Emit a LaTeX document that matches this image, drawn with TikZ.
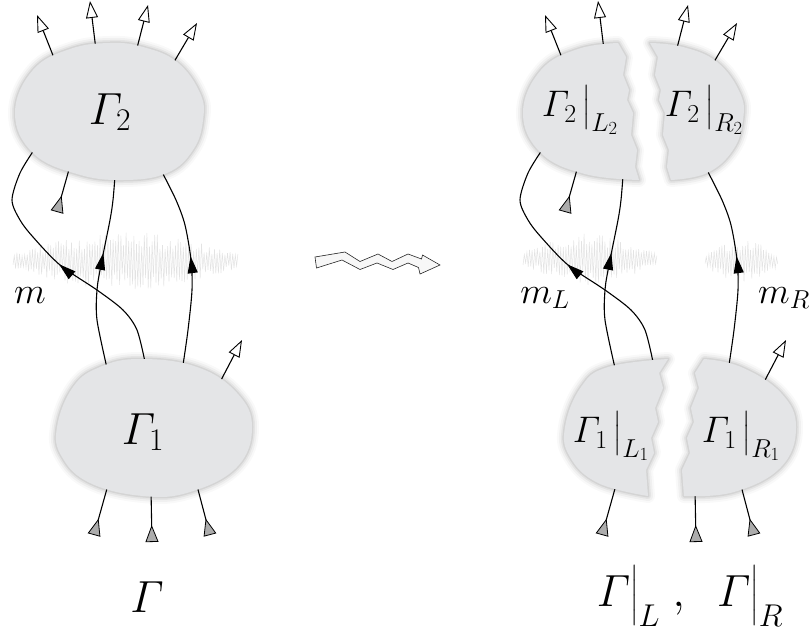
\documentclass[tikz,border=0pt]{standalone}
\usepackage{fix-cm}
\usepackage{amsmath}
\usetikzlibrary{arrows.meta, decorations.markings}

% outlines of the two vertices (and of their halves)
\newcommand{\blobtwo}{plot[smooth cycle, tension=0.7] coordinates {(15,113) (33,70) (70,49) (110,43) (143,47) (177,62) (200,93) (203,120) (193,150) (167,173) (123,180) (77,174) (33,153)}}
\newcommand{\blobtwoL}{plot[smooth, tension=0.7] coordinates {(131,180) (77,174) (33,153) (15,113) (33,70) (70,49) (110,43)} -- (118,57) -- (115,75) -- (121,90) -- (119,100) -- (125,113) -- (123,135) -- (129,150) -- (127,167) -- cycle}
\newcommand{\blobtwoR}{plot[smooth, tension=0.7] coordinates {(110,43) (143,47) (177,62) (200,93) (203,120) (193,150) (167,173) (131,180)} -- (127,167) -- (129,150) -- (123,135) -- (125,113) -- (119,100) -- (121,90) -- (115,75) -- (118,57) -- cycle}
\newcommand{\blobone}{plot[smooth cycle, tension=0.7] coordinates {(57,427) (73,387) (100,367) (140,359) (197,367) (237,393) (252,427) (237,467) (190,492) (143,496) (90,483) (62,457)}}
\newcommand{\bloboneL}{plot[smooth, tension=0.7] coordinates {(140,496) (90,483) (62,457) (57,427) (73,387) (100,367) (160,359)} -- (151,373) -- (155,388) -- (147,408) -- (150,422) -- (143,438) -- (146,453) -- (138,470) -- cycle}
\newcommand{\bloboneR}{plot[smooth, tension=0.7] coordinates {(160,359) (197,367) (237,393) (252,427) (237,467) (190,492) (140,496)} -- (138,470) -- (146,453) -- (143,438) -- (150,422) -- (147,408) -- (155,388) -- (151,373) -- cycle}

% internal lines
\newcommand{\lineS}{plot[smooth] coordinates {(145,362) (137,330) (123,310) (97,290) (60,265) (33,237) (20,220) (12,200) (20,173) (34,150)}}
\newcommand{\lineM}{plot[smooth] coordinates {(107,368) (97,320) (97,290) (101,265) (110,220) (113,200) (115,176)}}
\newcommand{\lineR}{plot[smooth] coordinates {(183,365) (188,330) (192,290) (191,260) (185,225) (176,200) (162,172)}}

% soft shadow + fill
\newcommand{\drawblob}[1]{%
  \foreach \w/\o in {14/0.025, 10/0.035, 6/0.05, 3/0.07} {\draw[line width=\w pt, black, opacity=\o, line join=round] #1;}
  \fill[blobfill] #1;}

% field fluctuations
\newcommand{\noiseband}[4]{%
  \pgfmathtruncatemacro{\nn}{(#2-#1)/1.3}
  \pgfmathtruncatemacro{\ns}{\nn+1}
  \draw[noise] plot[variable=\t, domain=0:\nn, samples=\ns] ({#1+\t*1.3}, {#3 + #4*(0.25+0.75*sin(\t/\nn*180))*(0.45+0.55*rnd)*(1-2*mod(round(\t),2))});}

\definecolor{blobgray}{RGB}{228,229,231}

\begin{document}
\begin{tikzpicture}[
    x=1pt, y=-1pt,
    blobfill/.style={fill=blobgray},
    noise/.style={gray!22, line width=0.5pt},
    outleg/.style={-{Triangle[open, length=17pt, width=12pt, line width=0.9pt]}, line width=1.1pt},
    inleg/.style={-{Triangle[reversed, length=17pt, width=13pt, fill=gray!65, line width=0.8pt]}, line width=1.1pt},
    flow/.style={line width=1.1pt, postaction={decorate},
                 decoration={markings, mark=at position #1 with {\arrow{Triangle[length=17pt, width=10pt]}}}},
    flow/.default=0.5,
    big/.style={font=\fontsize{45}{50}\selectfont},
    mid/.style={font=\fontsize{37}{40}\selectfont},
    zigzag/.style={fill=gray!6, draw=black!85, line width=0.6pt},
]
    \pgfmathsetseed{7}
    \useasboundingbox (0,0) rectangle (810,632);

    % ---------- left: the diagram Gamma ----------
    \noiseband{13}{238}{261}{29}

    % lines from Gamma_1 to Gamma_2
    \draw[flow=0.5] \lineS;
    \draw[flow=0.6] \lineM;
    \draw[flow=0.55] \lineR;

    % external legs
    \foreach \xa/\ya/\xb/\yb in {56/63/37/15, 96/50/90/1, 136/52/148/5, 171/67/197/23, 219/384/242/340}
        \draw[outleg] (\xa,\ya) -- (\xb,\yb);
    \foreach \xa/\ya/\xb/\yb in {70/166/57/212, 108/485/94/535, 151/490/152/542, 196/482/210/535}
        \draw[inleg] (\xa,\ya) -- (\xb,\yb);

    % vertices
    \drawblob{\blobtwo}
    \drawblob{\blobone}

    \node[big] (g2) at (110,112) {$\varGamma_2$};
    \node[big] (g1) at (143,432) {$\varGamma_1$};
    \node[mid] (m) at (30,296) {$m$};
    \node[big] (g) at (147,597) {$\varGamma$};

    % ---------- middle: the cut ----------
    \draw[zigzag] (315,257) -- (345,252) -- (360,261.5) -- (378,254) -- (392,261.5) -- (408,254)
        -- (421.5,259) -- (422.5,255) -- (440,265) -- (420,274) -- (418.5,267.5) -- (408,263)
        -- (393,269.5) -- (377,263) -- (360,269.5) -- (342,260) -- (316.5,268) -- cycle;

    % ---------- right: the two halves ----------
    \noiseband{523}{658}{259}{26}
    \noiseband{705}{778}{261}{22}

    % left half
    \begin{scope}[shift={(508,0)}]
        \draw[flow=0.5] \lineS;
        \draw[flow=0.6] \lineM;
        \foreach \xa/\ya/\xb/\yb in {56/63/37/15, 96/50/90/1}
            \draw[outleg] (\xa,\ya) -- (\xb,\yb);
        \foreach \xa/\ya/\xb/\yb in {70/166/57/212, 108/485/94/535}
            \draw[inleg] (\xa,\ya) -- (\xb,\yb);
        \drawblob{\blobtwoL}
        \drawblob{\bloboneL}
    \end{scope}

    % right half
    \begin{scope}[shift={(546,0)}]
        \draw[flow=0.55] \lineR;
    \end{scope}
    \begin{scope}[shift={(540,0)}]
        \foreach \xa/\ya/\xb/\yb in {136/52/148/5, 171/67/197/23}
            \draw[outleg] (\xa,\ya) -- (\xb,\yb);
        \drawblob{\blobtwoR}
    \end{scope}
    \begin{scope}[shift={(544,0)}]
        \draw[outleg] (219,384) -- (242,340);
        \foreach \xa/\ya/\xb/\yb in {151/490/152/542, 196/482/210/535}
            \draw[inleg] (\xa,\ya) -- (\xb,\yb);
        \drawblob{\bloboneR}
    \end{scope}

    \node[mid] (g2l) at (580,110) {$\varGamma_2\,\big|_{L_2}$};
    \node[mid] (g2r) at (704,110) {$\varGamma_2\,\big|_{R_2}$};
    \node[mid] (g1l) at (611,436) {$\varGamma_1\,\big|_{L_1}$};
    \node[mid] (g1r) at (741,436) {$\varGamma_1\,\big|_{R_1}$};
    \node[mid] (ml) at (545,298) {$m_L$};
    \node[mid] (mr) at (784,298) {$m_R$};
    \node[big] (glr) at (690,596) {$\varGamma\big|_L\;,\;\;\varGamma\big|_R$};
\end{tikzpicture}
\end{document}
